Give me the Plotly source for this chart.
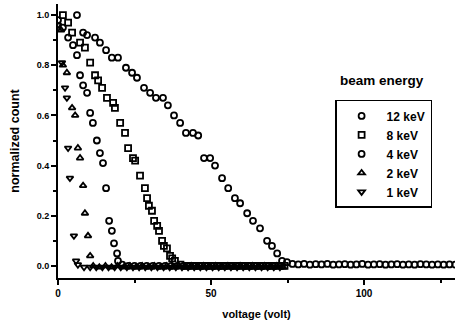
import plotly.graph_objects as go

# ---- data ----
kev12_x = [6.2, 8.2, 9.5, 12.1, 13.7, 15.7, 17.6, 19.6, 22.2, 24.2, 25.8, 28.1, 30.1, 32.0, 34.3,
           35.9, 37.9, 39.9, 41.8, 44.1, 45.8, 47.7, 49.7, 51.3, 53.6, 55.6, 57.8, 59.5, 61.8,
           63.7, 66.0, 68.3, 69.9, 71.6, 73.2, 74.8,
           76.6, 78.5, 80.4, 82.3, 84.2, 86.1, 88.0, 89.9, 91.8, 93.7, 95.6, 97.5, 99.4, 101.3,
           103.2, 105.1, 107.0, 108.9, 110.8, 112.7, 114.6, 116.5, 118.4, 120.3, 122.2, 124.1,
           126.0, 127.9, 129.8]
kev12_y = [1.00, 0.93, 0.92, 0.91, 0.89, 0.86, 0.83, 0.83, 0.79, 0.77, 0.75, 0.71, 0.69, 0.67, 0.67,
           0.64, 0.60, 0.57, 0.53, 0.53, 0.52, 0.43, 0.43, 0.40, 0.35, 0.31, 0.27, 0.25, 0.21,
           0.18, 0.15, 0.10, 0.08, 0.05, 0.02, 0.015,
           0.008, 0.006, 0.008, 0.005, 0.007, 0.006, 0.008, 0.005, 0.006, 0.007, 0.005, 0.006,
           0.008, 0.005, 0.006, 0.007, 0.005, 0.006, 0.007, 0.005, 0.006, 0.005, 0.007, 0.006,
           0.005, 0.006, 0.005, 0.006, 0.005]

kev8_x = [1.6, 3.3, 4.6, 7.2, 8.8, 10.5, 12.1, 13.1, 14.4, 16.0, 18.0, 18.6, 20.3, 21.9, 22.9,
          24.5, 25.2, 26.8, 28.4, 29.1, 29.7, 30.7, 31.4, 32.4, 33.0, 34.0, 34.6, 35.6, 36.6,
          37.3, 38.2,
          40, 42, 44, 46, 48, 50, 52, 54, 56, 58, 60, 62, 64, 66, 68, 70, 72, 74]
kev8_y = [1.00, 0.97, 0.93, 0.89, 0.87, 0.81, 0.76, 0.74, 0.71, 0.67, 0.65, 0.63, 0.57, 0.53, 0.47,
          0.43, 0.42, 0.36, 0.31, 0.27, 0.24, 0.22, 0.18, 0.16, 0.14, 0.10, 0.08, 0.07, 0.04,
          0.03, 0.02,
          0.005, 0.0, 0.0, 0.0, 0.0, 0.0, 0.0, 0.0, 0.0, 0.0, 0.0, 0.0, 0.0, 0.0, 0.0, 0.0, 0.0, 0.0]

kev4_x = [0.0, 1.6, 3.3, 4.9, 6.2, 7.2, 8.2, 9.5, 10.5, 11.4, 12.7, 13.7, 14.7, 15.7, 16.7,
          17.6, 18.3, 19.3, 19.6,
          21, 23, 25, 27, 29, 31, 33, 35, 37, 39, 41, 43, 45, 47, 49, 51, 53, 55, 57, 59, 61,
          63, 65, 67, 69, 71, 73]
kev4_y = [0.98, 0.95, 0.91, 0.88, 0.84, 0.76, 0.72, 0.69, 0.61, 0.57, 0.50, 0.45, 0.41, 0.31, 0.18,
          0.14, 0.09, 0.05, 0.02,
          0.005, 0.0, 0.0, 0.0, 0.0, 0.0, 0.0, 0.0, 0.0, 0.0, 0.0, 0.0, 0.0, 0.0, 0.0, 0.0, 0.0,
          0.0, 0.0, 0.0, 0.0, 0.0, 0.0, 0.0, 0.0, 0.0, 0.0]

kev2_x = [1.0, 1.6, 2.9, 4.6, 5.6, 6.5, 7.2, 8.2, 8.8, 9.8, 10.5,
          11.5, 13.5, 15.5, 17.5, 19.5, 21.5, 23.5, 25.5, 27.5, 29.5, 31.5, 33.5, 35.5, 37.5,
          39.5, 41.5, 43.5, 45.5, 47.5, 49.5, 51.5, 53.5, 55.5, 57.5, 59.5, 61.5, 63.5, 65.5,
          67.5, 69.5, 71.5, 73.5]
kev2_y = [0.94, 0.80, 0.77, 0.63, 0.60, 0.47, 0.43, 0.32, 0.21, 0.12, 0.04,
          0.0, -0.005, 0.0, -0.005, 0.0, -0.005, 0.0, -0.005, 0.0, -0.005, 0.0, -0.005, 0.0,
          -0.005, 0.0, -0.005, 0.0, -0.005, 0.0, -0.005, 0.0, -0.005, 0.0, -0.005, 0.0, -0.005,
          0.0, -0.005, 0.0, -0.005, 0.0, -0.005]

kev1_x = [0.0, 1.3, 2.3, 2.9, 3.3, 3.9, 5.2, 5.9,
          6.5, 8.5, 10.5, 12.5, 14.5, 16.5, 18.5, 20.5, 22.5, 24.5, 26.5, 28.5, 30.5, 32.5,
          34.5, 36.5, 38.5, 40.5, 42.5, 44.5, 46.5, 48.5, 50.5, 52.5, 54.5, 56.5, 58.5, 60.5,
          62.5, 64.5, 66.5, 68.5, 70.5, 72.5]
kev1_y = [0.96, 0.81, 0.71, 0.67, 0.47, 0.35, 0.12, 0.02,
          0.005, -0.005, -0.005, -0.005, -0.005, -0.005, -0.005, -0.005, -0.005, -0.005,
          -0.005, -0.005, -0.005, -0.005, -0.005, -0.005, -0.005, -0.005, -0.005, -0.005,
          -0.005, -0.005, -0.005, -0.005, -0.005, -0.005, -0.005, -0.005, -0.005, -0.005,
          -0.005, -0.005, -0.005, -0.005]

x_ticks = [0, 50, 100]
x_ticktext = ["0", "50", "100"]
y_ticks = [0, 0.2, 0.4, 0.6, 0.8, 1.0]
y_ticktext = ["0.0", "0.2", "0.4", "0.6", "0.8", "1.0"]

series = [
    ("12 keV", kev12_x, kev12_y, "circle-open"),
    ("8 keV", kev8_x, kev8_y, "square-open"),
    ("4 keV", kev4_x, kev4_y, "circle-open"),
    ("2 keV", kev2_x, kev2_y, "triangle-up-open"),
    ("1 keV", kev1_x, kev1_y, "triangle-down-open"),
]

FONT = "Liberation Sans"

fig = go.Figure()
for name, xs, ys, sym in series:
    fig.add_trace(go.Scatter(
        x=xs, y=ys, mode="markers", name=name,
        marker=dict(symbol=sym, size=6, color="black", line=dict(color="black", width=1.8)),
    ))

fig.update_layout(
    width=455, height=325,
    margin=dict(l=58, r=0, t=4, b=47, autoexpand=False),
    paper_bgcolor="white", plot_bgcolor="white",
    font=dict(family=FONT, size=10, color="black", weight="bold"),
    showlegend=True,
    legend=dict(
        x=0.698, y=0.65, xanchor="left", yanchor="top",
        bordercolor="black", borderwidth=1.5, bgcolor="white",
        font=dict(family=FONT, size=12, color="black", weight="bold"),
        tracegroupgap=0, itemwidth=40,
    ),
    xaxis=dict(
        range=[0, 129.7], showgrid=False, zeroline=False, automargin=False,
        showline=True, linecolor="black", linewidth=2,
        ticks="outside", tickwidth=1.5, ticklen=5, tickcolor="black",
        tickvals=x_ticks, ticktext=x_ticktext,
        minor=dict(tickvals=[25, 75, 125], ticks="outside", ticklen=3, tickwidth=1.5, tickcolor="black"),
        title=dict(text="voltage (volt)", font=dict(size=11, family=FONT, weight="bold"), standoff=12),
        tickfont=dict(size=10, family=FONT, weight="bold"),
    ),
    yaxis=dict(
        range=[-0.048, 1.044], showgrid=False, zeroline=False, automargin=False,
        showline=True, linecolor="black", linewidth=2,
        ticks="outside", tickwidth=1.5, ticklen=5, tickcolor="black",
        tickvals=y_ticks, ticktext=y_ticktext,
        minor=dict(tickvals=[0.1, 0.3, 0.5, 0.7, 0.9], ticks="outside", ticklen=3, tickwidth=1.5, tickcolor="black"),
        title=dict(text="normalized count", font=dict(size=12.5, family=FONT, weight="bold"), standoff=14),
        tickfont=dict(size=9, family=FONT, weight="bold"),
    ),
    annotations=[dict(
        text="beam energy", x=0.815, y=0.72, xref="paper", yref="paper",
        xanchor="center", yanchor="middle", showarrow=False,
        font=dict(size=13.5, family=FONT, color="black", weight="bold"),
    )],
)

fig.write_html("out.html", config={"displayModeBar": False},
               post_script="document.body.style.margin='0';")
